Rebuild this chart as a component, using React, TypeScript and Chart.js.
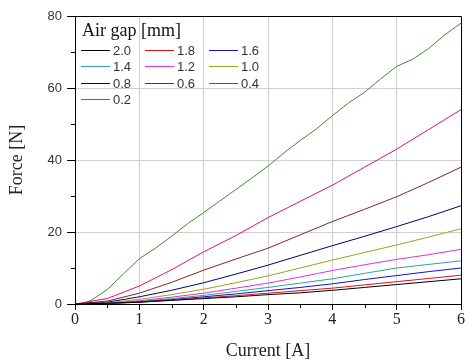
import React, { useEffect, useRef } from "react";
import { Chart, registerables } from "chart.js";

Chart.register(...registerables);

const gapLabels = ["2.0", "1.8", "1.6", "1.4", "1.2", "1.0", "0.8", "0.6", "0.4", "0.2"];
const gapColors = ["#000000", "#e01010", "#1010d0", "#30a0a0", "#e030e0", "#a0a020", "#000070", "#802818", "#e01070", "#3a8a2a"];

const currentHalf = [0, 0.5, 1, 1.5, 2, 2.5, 3, 3.5, 4, 4.5, 5, 5.5, 6];
const currentQuarter = [0, 0.1, 0.25, 0.5, 0.75, 1, 1.25, 1.5, 1.75, 2, 2.25, 2.5, 2.75, 3, 3.25, 3.5, 3.75, 4, 4.25, 4.5, 4.75, 5, 5.25, 5.5, 5.75, 6];

const force20 = [0, 0.2, 0.5, 1.0, 1.5, 2.0, 2.6, 3.1, 3.8, 4.6, 5.4, 6.2, 7.0];
const force18 = [0, 0.1, 0.5, 1.1, 1.7, 2.3, 3.0, 3.7, 4.4, 5.3, 6.2, 7.1, 8.0];
const force16 = [0, 0.15, 0.6, 1.2, 2.0, 2.8, 3.7, 4.6, 5.6, 6.8, 7.9, 9.0, 10.0];
const force14 = [0, 0.2, 0.7, 1.5, 2.4, 3.5, 4.6, 5.8, 7.0, 8.5, 10.0, 11.0, 12.0];
const force12 = [0, 0.2, 0.9, 1.9, 3.0, 4.4, 5.8, 7.5, 9.3, 10.9, 12.4, 13.7, 15.2];
const force10 = [0, 0.3, 1.3, 2.6, 4.1, 5.9, 7.8, 10.0, 12.2, 14.3, 16.4, 18.6, 20.9];
const force08 = [0, 0.5, 2.0, 3.8, 5.9, 8.3, 10.8, 13.5, 16.2, 18.8, 21.5, 24.3, 27.3];
const force06 = [0, 0.8, 3.0, 6.0, 9.4, 12.5, 15.5, 19.2, 22.9, 26.3, 29.8, 33.8, 38.0];
const force04 = [0, 1.5, 5.0, 9.5, 14.5, 19.0, 24.0, 28.5, 33.0, 38.0, 43.0, 48.5, 54.0];
const force02 = [0, 0, 1.0, 4.0, 8.3, 12.6, 15.5, 18.8, 22.3, 25.4, 28.6, 31.8, 35.0, 38.3, 42.0, 45.4, 48.6, 52.3, 55.8, 58.8, 62.5, 66.0, 68.0, 71.0, 74.8, 78.0];

const xTicks = [0, 1, 2, 3, 4, 5, 6];
const yTicks = [0, 20, 40, 60, 80];
const xMinorTicks = [0.5, 1.5, 2.5, 3.5, 4.5, 5.5];
const yMinorTicks = [10, 30, 50, 70];

const seriesValues = [force20, force18, force16, force14, force12, force10, force08, force06, force04, force02];

const frameAndExtras = {
  id: "frameAndExtras",
  afterDraw(chart: any) {
    const { ctx, chartArea, scales } = chart;
    const xs = scales.x;
    const ys = scales.y;
    ctx.save();
    ctx.strokeStyle = "#000";
    ctx.lineWidth = 1;
    // frame top & right
    ctx.beginPath();
    ctx.moveTo(chartArea.left, Math.round(chartArea.top) + 0.5);
    ctx.lineTo(chartArea.right + 0.5, Math.round(chartArea.top) + 0.5);
    ctx.lineTo(chartArea.right + 0.5, chartArea.bottom);
    ctx.stroke();
    // minor ticks
    ctx.beginPath();
    xMinorTicks.forEach((v) => {
      const px = Math.round(xs.getPixelForValue(v)) + 0.5;
      ctx.moveTo(px, chartArea.bottom);
      ctx.lineTo(px, chartArea.bottom + 4);
    });
    yMinorTicks.forEach((v) => {
      const py = Math.round(ys.getPixelForValue(v)) + 0.5;
      ctx.moveTo(chartArea.left - 4, py);
      ctx.lineTo(chartArea.left, py);
    });
    ctx.stroke();

    // legend
    const lx = chartArea.left + 6;
    ctx.fillStyle = "#111";
    ctx.font = '18px "Liberation Serif"';
    ctx.textBaseline = "alphabetic";
    ctx.textAlign = "left";
    ctx.fillText("Air gap [mm]", lx + 1, chartArea.top + 20);
    ctx.font = '13px "Liberation Sans"';
    ctx.textBaseline = "middle";
    gapLabels.forEach((lab, i) => {
      const col = i % 3;
      const row = Math.floor(i / 3);
      const x0 = lx + col * 64;
      const y0 = Math.round(chartArea.top + 34 + row * 16.3) + 0.5;
      ctx.strokeStyle = gapColors[i];
      ctx.lineWidth = 1;
      ctx.beginPath();
      ctx.moveTo(x0, y0);
      ctx.lineTo(x0 + 29, y0);
      ctx.stroke();
      ctx.fillStyle = "#333";
      ctx.fillText(lab, x0 + 32, y0 + 1);
    });
    ctx.restore();
  },
};

export default function App() {
  const ref = useRef<HTMLCanvasElement | null>(null);
  useEffect(() => {
    document.body.style.margin = "0";
    const canvas = ref.current;
    if (!canvas) return;
    const datasets = seriesValues.map((vals, i) => {
      const xsArr = i === 9 ? currentQuarter : currentHalf;
      return {
        label: gapLabels[i],
        data: vals.map((v, j) => ({ x: xsArr[j], y: v })),
        borderColor: gapColors[i],
        backgroundColor: gapColors[i],
        borderWidth: 1,
        pointRadius: 0,
        tension: 0,
        fill: false,
      };
    });
    const chart = new Chart(canvas, {
      type: "line",
      data: { datasets },
      plugins: [frameAndExtras],
      options: {
        animation: false,
        responsive: false,
        devicePixelRatio: 1,
        layout: { padding: { left: 0, top: 16, right: 4, bottom: 0 } },
        plugins: { legend: { display: false }, tooltip: { enabled: false } },
        scales: {
          x: {
            type: "linear",
            min: 0,
            max: 6,
            afterBuildTicks: (s: any) => {
              s.ticks = xTicks.map((v) => ({ value: v }));
            },
            afterFit: (s: any) => {
              s.height = 58;
            },
            ticks: {
              padding: 0,
              color: "#222",
              font: { family: "Liberation Serif", size: 16 },
              maxRotation: 0,
            },
            grid: {
              color: (c: any) => (c.tick && (c.tick.value === 0 || c.tick.value === 6) ? "rgba(0,0,0,0)" : "#cfcfcf"),
              tickColor: "#000",
              tickLength: 6,
              lineWidth: 1,
            },
            border: { color: "#000", width: 1 },
            title: {
              display: true,
              text: "Current [A]",
              color: "#222",
              font: { family: "Liberation Serif", size: 18 },
              padding: { top: 0, bottom: 0 },
            },
          },
          y: {
            type: "linear",
            min: 0,
            max: 80,
            afterBuildTicks: (s: any) => {
              s.ticks = yTicks.map((v) => ({ value: v }));
            },
            afterFit: (s: any) => {
              s.width = 75;
            },
            ticks: {
              padding: 5,
              color: "#333",
              font: { family: "Liberation Sans", size: 13 },
            },
            grid: {
              color: (c: any) => (c.tick && (c.tick.value === 0 || c.tick.value === 80) ? "rgba(0,0,0,0)" : "#cfcfcf"),
              tickColor: "#000",
              tickLength: 8,
              lineWidth: 1,
            },
            border: { color: "#000", width: 1 },
            title: {
              display: true,
              text: "Force [N]",
              color: "#222",
              font: { family: "Liberation Serif", size: 18 },
              padding: { top: 6, bottom: 0 },
            },
          },
        },
      } as any,
    });
    return () => chart.destroy();
  }, []);
  return (
    <div style={{ width: 465, height: 362, position: "relative", background: "#fff" }}>
      <canvas ref={ref} width={465} height={362} style={{ display: "block" }} />
    </div>
  );
}
